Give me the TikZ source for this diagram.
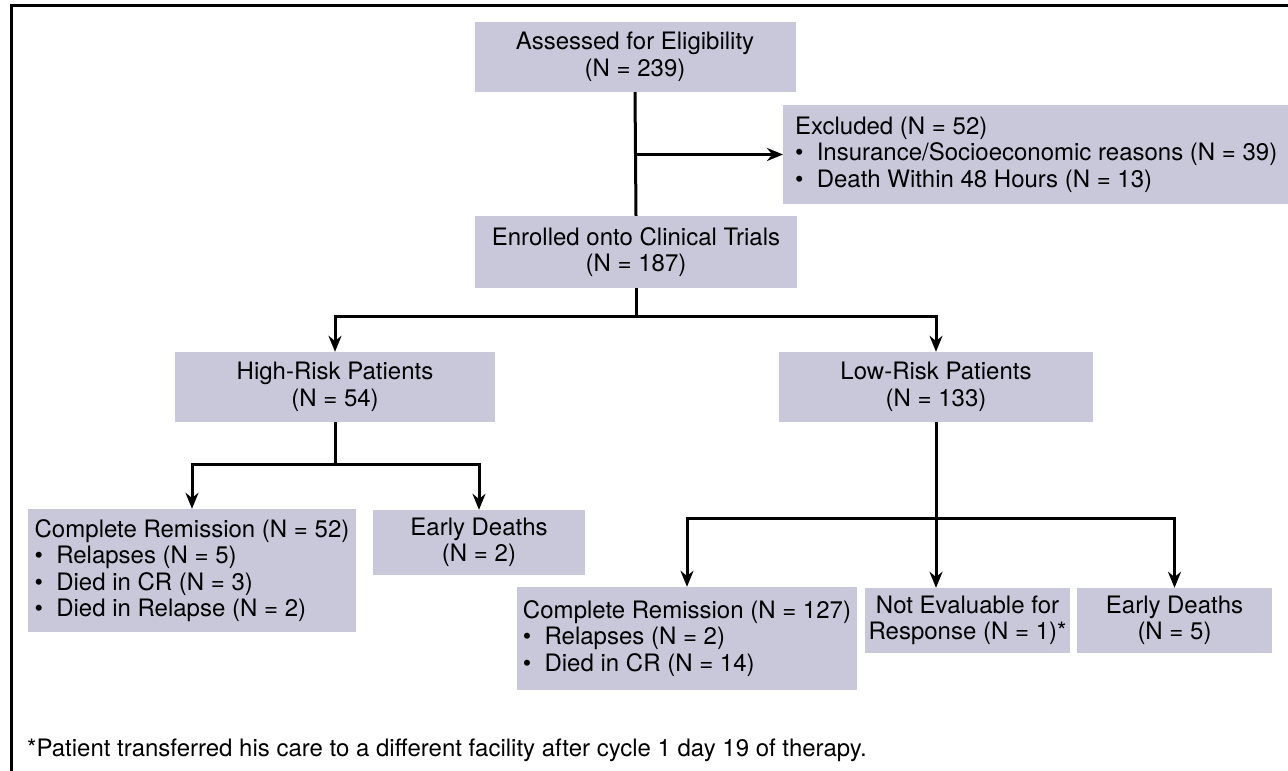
\documentclass[tikz,border=0pt]{standalone}
\usepackage{fontspec}
\setmainfont{TeX Gyre Heros}
\usetikzlibrary{arrows.meta}
\definecolor{boxfill}{RGB}{200,200,218}
\tikzset{
  flowbox/.style={fill=boxfill, inner sep=0pt, align=center, font=\fontsize{24bp}{26.5bp}\selectfont},
  listbox/.style={flowbox, align=left},
  flowarrow/.style={line width=3bp, -{Stealth[length=16bp,width=13bp]}},
  flowline/.style={line width=3bp}
}
\newcommand{\bul}{\textbullet\hspace{0.55em}}
\begin{document}
\begin{tikzpicture}[x=1bp,y=1bp,yscale=-1,xscale=1]
\useasboundingbox (0,0) rectangle (1288,771);

%Shape: Frame
\draw [line width=3bp] (11,771) -- (11,6) -- (1288,6);

%Boxes: top level
\node [flowbox, minimum width=321bp, minimum height=70bp] (assess) at (635,57) {Assessed for Eligibility\\(N = 239)};
\node [listbox, anchor=west, inner xsep=12bp, minimum width=505bp, minimum height=99bp] (excl) at (783,154.5) {Excluded (N = 52)\\\bul Insurance/Socioeconomic reasons (N = 39)\\\bul Death Within 48 Hours (N = 13)};
\node [flowbox, minimum width=322bp, minimum height=72bp] (enroll) at (636,252) {Enrolled onto Clinical Trials\\(N = 187)};

%Boxes: risk groups
\node [flowbox, minimum width=320bp, minimum height=70bp] (high) at (335,387) {High-Risk Patients\\(N = 54)};
\node [flowbox, minimum width=314bp, minimum height=70bp] (low) at (936,387) {Low-Risk Patients\\(N = 133)};

%Boxes: high-risk outcomes
\node [listbox, minimum width=327bp, minimum height=123bp] (crhigh) at (192,570.5) {Complete Remission (N = 52)\\\bul Relapses (N = 5)\\\bul Died in CR (N = 3)\\\bul Died in Relapse (N = 2)};
\node [flowbox, minimum width=212bp, minimum height=65bp] (edhigh) at (479,542.5) {Early Deaths\\(N = 2)};

%Boxes: low-risk outcomes
\node [listbox, minimum width=340bp, minimum height=103bp] (crlow) at (687,638.5) {Complete Remission (N = 127)\\\bul Relapses (N = 2)\\\bul Died in CR (N = 14)};
\node [flowbox, minimum width=205bp, minimum height=65bp] (noteval) at (967.5,620.5) {Not Evaluable for\\Response (N = 1)*};
\node [flowbox, minimum width=195bp, minimum height=65bp] (edlow) at (1174.5,620.5) {Early Deaths\\(N = 5)};

%Text Node: footnote
\node [anchor=base west, inner sep=0pt, font=\fontsize{24bp}{26.5bp}\selectfont] (note) at (27,756) {*Patient transferred his care to a different facility after cycle 1 day 19 of therapy.};

%Connectors
\coordinate (exbranch) at (assess.south |- excl.west);
\draw [flowline] (assess.south) -- (enroll.north);
\draw [flowarrow] (exbranch) -- (excl.west);

\coordinate (enbranch) at (636,316);
\draw [flowline] (enroll.south) -- (enbranch);
\draw [flowarrow] (enbranch) -| (high.north);
\draw [flowarrow] (enbranch) -| (low.north);

\coordinate (hibranch) at (335,464);
\draw [flowline] (high.south) -- (hibranch);
\draw [flowarrow] (hibranch) -| (crhigh.north);
\draw [flowarrow] (hibranch) -| (edhigh.north);

\coordinate (lobranch) at (936,518);
\draw [flowarrow] (low.south) -- (low.south |- noteval.north);
\draw [flowarrow] (lobranch) -| (crlow.north);
\draw [flowarrow] (lobranch) -| (edlow.north);

\end{tikzpicture}
\end{document}
